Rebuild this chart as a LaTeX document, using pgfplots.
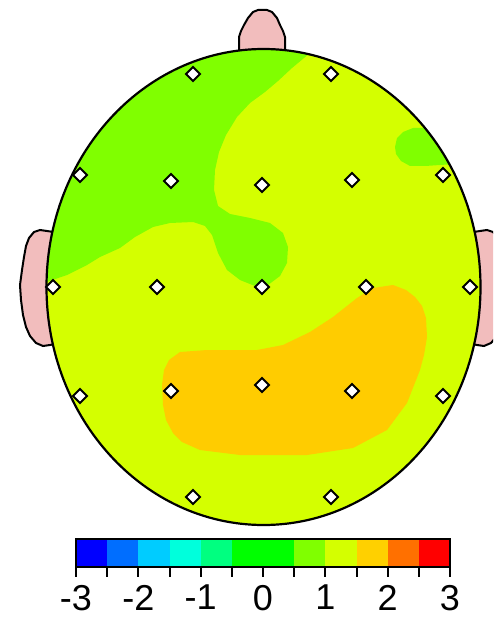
\documentclass[border=0pt]{standalone}
\usepackage{pgfplots}
\pgfplotsset{compat=1.18}
\usepackage{fontspec}
\setmainfont{Liberation Sans}

\definecolor{skin}{RGB}{242,189,189}
\definecolor{lvA}{RGB}{212,255,0}   % 1 .. 1.5
\definecolor{lvB}{RGB}{128,255,0}   % 0.5 .. 1
\definecolor{lvC}{RGB}{255,204,0}   % 1.5 .. 2
\definecolor{cb1}{RGB}{0,0,255}
\definecolor{cb2}{RGB}{0,110,255}
\definecolor{cb3}{RGB}{0,204,255}
\definecolor{cb4}{RGB}{0,255,220}
\definecolor{cb5}{RGB}{0,255,128}
\definecolor{cb6}{RGB}{0,255,0}
\definecolor{cb7}{RGB}{128,255,0}
\definecolor{cb8}{RGB}{212,255,0}
\definecolor{cb9}{RGB}{255,208,0}
\definecolor{cb10}{RGB}{255,112,0}
\definecolor{cb11}{RGB}{255,0,0}

\begin{document}
\begin{tikzpicture}
\useasboundingbox (0,0) rectangle (493pt,623pt);
% head map, one unit = one pixel of the reference
\begin{axis}[
    at={(0,0)}, anchor=south west,
    scale only axis, width=493pt, height=623pt,
    xmin=0, xmax=493, ymin=0, ymax=623,
    y dir=reverse,
    hide axis,
]
% nose and ears (inner parts covered by the head)
\addplot[fill=skin, draw=black, line width=2pt] coordinates {
    (239,62) (239,37) (241,31) (244,25) (248,18) (253,12) (258,10)
    (267,10) (272,12) (277,18) (280,25) (283,31) (285,37) (285,62)};
\addplot[fill=skin, draw=black, line width=2pt] coordinates {
    (60,233) (47,231) (40,230) (34,232) (29,238) (26,246) (24,257)
    (22,270) (20,285) (21,300) (23,315) (26,327) (30,336) (36,343)
    (43,346) (50,345) (60,343)};
\addplot[fill=skin, draw=black, line width=2pt] coordinates {
    (467,233) (480,231) (487,230) (493,232) (498,238) (501,246) (503,257)
    (505,270) (507,285) (506,300) (504,315) (501,327) (497,336) (491,343)
    (484,346) (477,345) (467,343)};

\fill[lvA] (axis cs:263.5,287) ellipse [x radius=217pt, y radius=238pt];

% 0.5 .. 1 region, upper left
\addplot[fill=lvB, draw=none] coordinates {
    (308.6,54.2) (292,68) (278,81) (265,92) (250,103) (237,117) (226,135)
    (219,152) (215,170) (214,190) (218,206) (230,214) (250,218) (270,223)
    (283,233) (288,247) (287,263) (280,276) (268,285) (255,286) (240,280)
    (227,270) (218,253) (212,235) (205,226) (193,222) (170,223) (153,227)
    (135,237) (120,248) (100,257) (87,265) (67,275) (46.6,282)
    (47.3,266.3) (49.8,245.7) (59.6,205.6) (75.6,168) (97.3,134)
    (124,104.7) (155,80.9) (189.3,63.4) (225.8,52.6) (263.5,49) (301.2,52.6)};
% 0.5 .. 1 region, upper right
\addplot[fill=lvB, draw=none] coordinates {
    (395,147) (397,138) (403,132) (413,128) (424.8,127.8) (429.7,134)
    (441.3,150.5) (449.5,164.4) (440,165) (425,166) (410,166) (401,161)
    (396,154)};
% 1.5 .. 2 region
\addplot[fill=lvC, draw=none] coordinates {
    (373,288) (393,285) (406,290) (415,297) (422,306) (426,318) (427,337)
    (424,355) (420,370) (407,403) (387,430) (353,448) (307,455) (240,455)
    (200,450) (182,442) (173,433) (166,420) (163,405) (162,385) (164,370)
    (169,360) (180,352) (207,350) (257,350) (283,345) (310,332) (333,317)
    (357,298)};

\draw[black, line width=2.2pt] (axis cs:263.5,287) ellipse [x radius=217pt, y radius=238pt];

% electrodes
\addplot[only marks, mark=square*, mark size=5pt,
    mark options={rotate=45, fill=white, draw=black, line width=2pt}]
    coordinates {
    (193,74) (331,74)
    (80,175) (171,181) (262,185) (352,180) (443,175)
    (53,287) (157,287) (262,287) (366,287) (470,287)
    (80,396) (171,391) (262,385) (352,391) (443,396)
    (193,497) (331,497)};
\end{axis}

% colour key
\begin{axis}[
    at={(76pt,56pt)}, anchor=south west,
    scale only axis, width=374pt, height=28pt,
    xmin=-3, xmax=3, ymin=0, ymax=1,
    axis on top,
    axis line style={line width=2.2pt},
    xtick={-3,-2,-1,0,1,2,3},
    xticklabels={-3,-2,-1,0,1,2,3},
    minor xtick={-2.5,-1.5,-0.5,0.5,1.5,2.5},
    ytick=\empty,
    xtick pos=bottom, tick align=outside,
    major tick length=10pt, minor tick length=10pt,
    every tick/.style={black, line width=2pt},
    xticklabel style={font=\fontsize{36}{38}\selectfont, inner sep=0pt, yshift=-8pt},
]
\addplot[fill=cb1, draw=none] coordinates {(-3,0) (-2.5,0) (-2.5,1) (-3,1)};
\addplot[fill=cb2, draw=none] coordinates {(-2.5,0) (-2,0) (-2,1) (-2.5,1)};
\addplot[fill=cb3, draw=none] coordinates {(-2,0) (-1.5,0) (-1.5,1) (-2,1)};
\addplot[fill=cb4, draw=none] coordinates {(-1.5,0) (-1,0) (-1,1) (-1.5,1)};
\addplot[fill=cb5, draw=none] coordinates {(-1,0) (-0.5,0) (-0.5,1) (-1,1)};
\addplot[fill=cb6, draw=none] coordinates {(-0.5,0) (0.5,0) (0.5,1) (-0.5,1)};
\addplot[fill=cb7, draw=none] coordinates {(0.5,0) (1,0) (1,1) (0.5,1)};
\addplot[fill=cb8, draw=none] coordinates {(1,0) (1.5,0) (1.5,1) (1,1)};
\addplot[fill=cb9, draw=none] coordinates {(1.5,0) (2,0) (2,1) (1.5,1)};
\addplot[fill=cb10, draw=none] coordinates {(2,0) (2.5,0) (2.5,1) (2,1)};
\addplot[fill=cb11, draw=none] coordinates {(2.5,0) (3,0) (3,1) (2.5,1)};
\end{axis}
\end{tikzpicture}
\end{document}
